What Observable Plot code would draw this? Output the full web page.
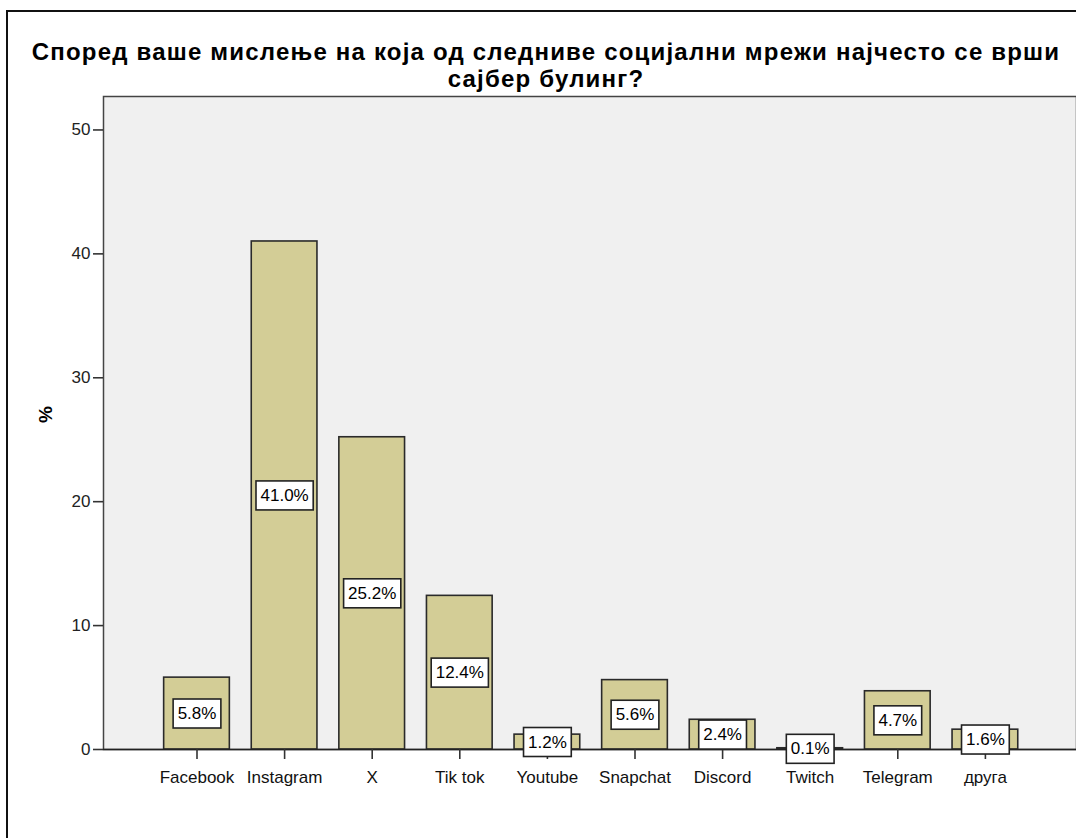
<!DOCTYPE html>
<html>
<head>
<meta charset="utf-8">
<script src="https://cdn.jsdelivr.net/npm/d3@7"></script>
<script src="https://cdn.jsdelivr.net/npm/@observablehq/plot@0.6"></script>
<style>
  html, body { margin: 0; padding: 0; background: #fff; }
  #wrap { position: relative; width: 1076px; height: 838px; overflow: hidden; font-family: "Liberation Sans", Arial, sans-serif; }
  #outer { position: absolute; left: 6px; top: 10px; width: 1200px; height: 1000px; border: 2px solid #111; box-sizing: border-box; }
  #title { position: absolute; left: 16px; width: 1060px; top: 38px; text-align: center; font-weight: bold; font-size: 24px; letter-spacing: 1.2px; line-height: 27px; color: #000; }
  #chart { position: absolute; left: 0; top: 0; }
</style>
</head>
<body>
<div id="wrap">
  <div id="outer"></div>
  <div id="chart"></div>
  <div id="title">Според ваше мислење на која од следниве социјални мрежи најчесто се врши<br>сајбер булинг?</div>
</div>
<script>
const categories = ["Facebook", "Instagram", "X", "Tik tok", "Youtube", "Snapchat", "Discord", "Twitch", "Telegram", "друга"];
const percents = [5.8, 41.0, 25.2, 12.4, 1.2, 5.6, 2.4, 0.1, 4.7, 1.6];
const yTicks = [0, 10, 20, 30, 40, 50];
const yLabel = "%";

const data = categories.map((c, i) => ({ cat: c, value: percents[i] }));

const plot = Plot.plot({
  width: 1076,
  height: 838,
  marginLeft: 103,
  marginRight: 0,
  marginTop: 96,
  marginBottom: 89,
  style: { fontFamily: "Liberation Sans, Arial, sans-serif", fontSize: "17px", color: "#222", background: "transparent" },
  x: { domain: categories, range: [119.85, 1061.55], paddingInner: 0.25, paddingOuter: 0.5, round: false },
  y: { domain: [0, 52.7] },
  marks: [
    Plot.frame({ fill: "#f0f0f0", stroke: "#444", strokeWidth: 1.5 }),
    Plot.barY(data, { x: "cat", y: "value", fill: "#d3cd96", stroke: "#2a2a2a", strokeWidth: 1.6 }),
    Plot.ruleY([0], { stroke: "#222", strokeWidth: 1.6 }),
    Plot.axisY({ ticks: yTicks, tickSize: 10, tickPadding: 3, label: null, stroke: "#333", strokeWidth: 1.6, fill: "#222" }),
    Plot.axisX({ tickSize: 10, tickPadding: 11, label: null, stroke: "#333", strokeWidth: 1.6, fill: "#111" }),
    Plot.text([yLabel], { frameAnchor: "left", dx: -58, rotate: -90, fontWeight: "bold", fontSize: 19, fill: "#000" }),
    Plot.text(data, { x: "cat", y: d => d.value / 2, text: d => d.value.toFixed(1) + "%", className: "vlab", fill: "#000", fontSize: 17 })
  ]
});
document.getElementById("chart").appendChild(plot);

// draw white boxes behind value labels
d3.select(plot).selectAll("g.vlab text").each(function () {
  const bb = this.getBBox();
  const cy = bb.y + bb.height / 2;
  const tr = this.getAttribute("transform");
  const r = d3.select(this.parentNode).insert("rect", () => this)
    .attr("x", bb.x - 4.5)
    .attr("y", cy - 14.5)
    .attr("width", bb.width + 9)
    .attr("height", 29)
    .attr("fill", "#fff")
    .attr("stroke", "#222")
    .attr("stroke-width", 1.6);
  if (tr) r.attr("transform", tr);
});
</script>
</body>
</html>
